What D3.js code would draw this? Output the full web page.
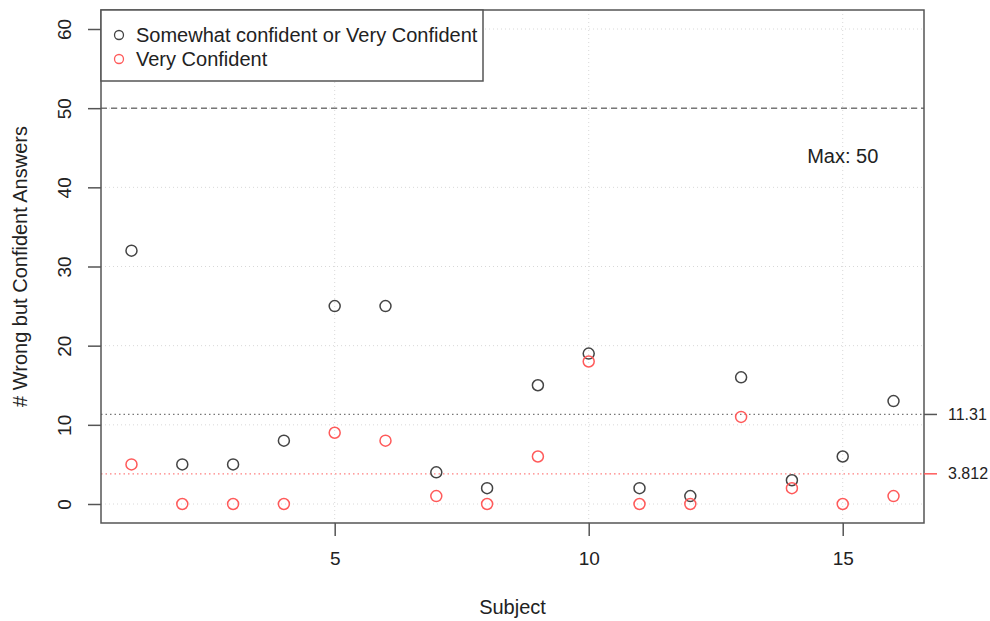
<!DOCTYPE html>
<html>
<head>
<meta charset="utf-8">
<script src="https://cdn.jsdelivr.net/npm/d3@7"></script>
<style>
  html, body { margin: 0; padding: 0; background: #fff; }
  svg { display: block; font-family: "Liberation Sans", Arial, sans-serif; }
</style>
</head>
<body>
<svg id="chart" width="990" height="621"></svg>
<script>
const subjects = d3.range(1, 17);
const somewhatOrVery = [32, 5, 5, 8, 25, 25, 4, 2, 15, 19, 2, 1, 16, 3, 6, 13];
const veryConfident = [5, 0, 0, 0, 9, 8, 1, 0, 6, 18, 0, 0, 11, 2, 0, 1];
const xTicks = [5, 10, 15];
const yTicks = [0, 10, 20, 30, 40, 50, 60];
const maxValue = 50;
const meanSomewhat = d3.mean(somewhatOrVery);
const meanVery = d3.mean(veryConfident);
const legendLabels = ["Somewhat confident or Very Confident", "Very Confident"];

const svg = d3.select("#chart");
const m = { left: 101, right: 924, top: 10, bottom: 523 };
const x = d3.scaleLinear().domain([0.4, 16.6]).range([m.left, m.right]);
const y = d3.scaleLinear().domain([-2.4, 62.4]).range([m.bottom, m.top]);

const black = "#444";
const red = "#ff5a5a";
const tickFont = 19;
const textFont = 20;

// grid
const grid = svg.append("g");
grid.selectAll("line.gx").data(xTicks).join("line")
  .attr("x1", d => x(d)).attr("x2", d => x(d))
  .attr("y1", m.top).attr("y2", m.bottom)
  .attr("stroke", "#d8d8d8").attr("stroke-dasharray", "1,3").attr("stroke-width", 1);
grid.selectAll("line.gy").data(yTicks).join("line")
  .attr("x1", m.left).attr("x2", m.right)
  .attr("y1", d => y(d)).attr("y2", d => y(d))
  .attr("stroke", "#d8d8d8").attr("stroke-dasharray", "1,3").attr("stroke-width", 1);

// reference lines
svg.append("line").attr("x1", m.left).attr("x2", m.right)
  .attr("y1", y(maxValue)).attr("y2", y(maxValue))
  .attr("stroke", "#777").attr("stroke-width", 1.5).attr("stroke-dasharray", "6,4");
svg.append("line").attr("x1", m.left).attr("x2", m.right)
  .attr("y1", y(meanSomewhat)).attr("y2", y(meanSomewhat))
  .attr("stroke", "#777").attr("stroke-width", 1.3).attr("stroke-dasharray", "1.5,3");
svg.append("line").attr("x1", m.left).attr("x2", m.right)
  .attr("y1", y(meanVery)).attr("y2", y(meanVery))
  .attr("stroke", "#ff8080").attr("stroke-width", 1.3).attr("stroke-dasharray", "1.5,3");

svg.append("text").attr("x", x(15)).attr("y", y(44)).attr("dy", "0.35em")
  .attr("text-anchor", "middle").attr("font-size", textFont).attr("fill", "#222").text("Max: " + maxValue);

// points
svg.append("g").selectAll("circle").data(subjects).join("circle")
  .attr("cx", d => x(d)).attr("cy", (d, i) => y(somewhatOrVery[i])).attr("r", 5.5)
  .attr("fill", "none").attr("stroke", black).attr("stroke-width", 1.5);
svg.append("g").selectAll("circle").data(subjects).join("circle")
  .attr("cx", d => x(d)).attr("cy", (d, i) => y(veryConfident[i])).attr("r", 5.5)
  .attr("fill", "none").attr("stroke", red).attr("stroke-width", 1.5);

// box
svg.append("rect").attr("x", m.left).attr("y", m.top)
  .attr("width", m.right - m.left).attr("height", m.bottom - m.top)
  .attr("fill", "none").attr("stroke", "#555").attr("stroke-width", 1.5);

// axes
const xAxis = svg.append("g").attr("transform", `translate(0,${m.bottom})`)
  .call(d3.axisBottom(x).tickValues(xTicks).tickSize(13).tickPadding(12).tickFormat(d3.format("d")));
const yAxis = svg.append("g").attr("transform", `translate(${m.left},0)`)
  .call(d3.axisLeft(y).tickValues(yTicks).tickSize(13).tickPadding(0).tickFormat(d3.format("d")));
[xAxis, yAxis].forEach(a => {
  a.select(".domain").remove();
  a.selectAll(".tick line").attr("stroke", "#555").attr("stroke-width", 1.5);
  a.selectAll(".tick text").attr("font-size", tickFont).attr("fill", "#222").attr("font-family", "Liberation Sans, Arial, sans-serif");
});
yAxis.selectAll(".tick text")
  .attr("x", null).attr("dy", null)
  .attr("text-anchor", "middle")
  .attr("transform", "translate(-35,0) rotate(-90)")
  .attr("y", 0).attr("dominant-baseline", "middle");
xAxis.selectAll(".tick text").attr("dy", "0.9em");

// right axis for means
const rightData = [
  { v: meanSomewhat, label: "11.31", color: "#555" },
  { v: meanVery, label: "3.812", color: "#ff5a5a" }
];
const rg = svg.append("g");
rg.selectAll("line").data(rightData).join("line")
  .attr("x1", m.right).attr("x2", m.right + 13)
  .attr("y1", d => y(d.v)).attr("y2", d => y(d.v))
  .attr("stroke", d => d.color).attr("stroke-width", 1.5);
rg.selectAll("text").data(rightData).join("text")
  .attr("x", m.right + 24).attr("y", d => y(d.v)).attr("dy", "0.35em")
  .attr("font-size", 16).attr("fill", "#222").text(d => d.label);

// axis titles
svg.append("text").attr("x", x(8.5)).attr("y", 614).attr("text-anchor", "middle")
  .attr("font-size", textFont).attr("fill", "#222").text("Subject");
svg.append("text").attr("transform", `translate(27,${(m.top + m.bottom) / 2}) rotate(-90)`)
  .attr("text-anchor", "middle").attr("font-size", textFont).attr("fill", "#222")
  .text("# Wrong but Confident Answers");

// legend
const lg = svg.append("g");
lg.append("rect").attr("x", m.left).attr("y", m.top).attr("width", 382).attr("height", 71)
  .attr("fill", "#fff").attr("stroke", "#555").attr("stroke-width", 1.5);
const colors = [black, red];
legendLabels.forEach((t, i) => {
  const cy = 35 + i * 24;
  lg.append("circle").attr("cx", 119).attr("cy", cy).attr("r", 4.5)
    .attr("fill", "none").attr("stroke", colors[i]).attr("stroke-width", 1.3);
  lg.append("text").attr("x", 136).attr("y", cy).attr("dy", "0.35em")
    .attr("font-size", textFont).attr("fill", "#222").text(t);
});
</script>
</body>
</html>
